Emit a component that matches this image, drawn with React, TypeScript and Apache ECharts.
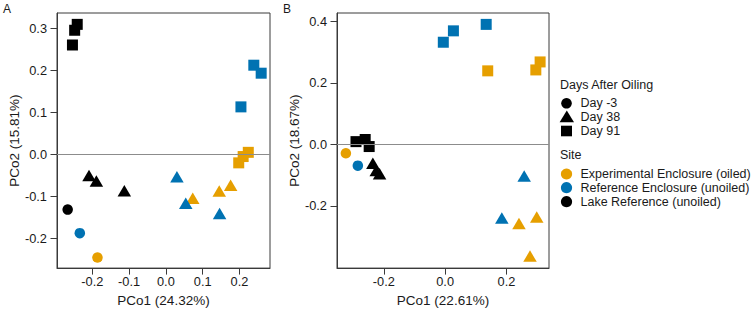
import React, { useEffect, useRef } from "react";
import * as echarts from "echarts";

// Okabe-Ito colours for sites
const siteColors = ["#E69F00", "#0072B2", "#000000"];
const siteLabels = [
  "Experimental Enclosure (oiled)",
  "Reference Enclosure (unoiled)",
  "Lake Reference (unoiled)",
];
const dayLabels = ["Day -3", "Day 38", "Day 91"];

// Panel A (PCo1 24.32%, PCo2 15.81%)
const aDayM3Exp = [[-0.186, -0.245]];
const aDayM3Ref = [[-0.234, -0.187]];
const aDayM3Lake = [[-0.267, -0.131]];
const aDay38Exp = [[0.073, -0.104], [0.145, -0.087], [0.176, -0.073]];
const aDay38Ref = [[0.03, -0.053], [0.054, -0.116], [0.146, -0.14]];
const aDay38Lake = [[-0.209, -0.05], [-0.189, -0.063], [-0.113, -0.086]];
const aDay91Exp = [[0.224, 0.005], [0.21, -0.005], [0.198, -0.02]];
const aDay91Ref = [[0.239, 0.212], [0.259, 0.193], [0.204, 0.113]];
const aDay91Lake = [[-0.241, 0.309], [-0.248, 0.295], [-0.254, 0.26]];

// Panel B (PCo1 22.61%, PCo2 18.67%)
const bDayM3Exp = [[-0.324, -0.029]];
const bDayM3Ref = [[-0.285, -0.069]];
const bDayM3Lake: number[][] = [];
const bDay38Exp = [[0.241, -0.257], [0.299, -0.236], [0.277, -0.363]];
const bDay38Ref = [[0.258, -0.103], [0.185, -0.239]];
const bDay38Lake = [[-0.236, -0.061], [-0.225, -0.085], [-0.214, -0.095]];
const bDay91Exp = [[0.139, 0.239], [0.296, 0.242], [0.31, 0.268]];
const bDay91Ref = [[-0.006, 0.332], [0.027, 0.369], [0.134, 0.39]];
const bDay91Lake = [[-0.291, 0.009], [-0.261, 0.016], [-0.248, -0.007]];

// Axis ticks
const aXTicks = [-0.2, -0.1, 0.0, 0.1, 0.2];
const aYTicks = [-0.2, -0.1, 0.0, 0.1, 0.2, 0.3];
const bXTicks = [-0.2, 0.0, 0.2];
const bYTicks = [-0.2, 0.0, 0.2, 0.4];

const FONT = "Liberation Sans, Arial, sans-serif";
const INK = "#1a1a1a";
const FRAME = "#3a3a3a";

export default function App() {
  const ref = useRef<HTMLDivElement>(null);
  useEffect(() => {
    if (!ref.current) return;
    const chart = echarts.init(ref.current, null, { renderer: "svg" });

    const symbols: any[] = ["circle", "triangle", "rect"];
    const sizes: any[] = [10.5, [13.5, 11.5], 11];

    const panels = [
      [
        [aDayM3Exp, aDayM3Ref, aDayM3Lake],
        [aDay38Exp, aDay38Ref, aDay38Lake],
        [aDay91Exp, aDay91Ref, aDay91Lake],
      ],
      [
        [bDayM3Exp, bDayM3Ref, bDayM3Lake],
        [bDay38Exp, bDay38Ref, bDay38Lake],
        [bDay91Exp, bDay91Ref, bDay91Lake],
      ],
    ];

    const series: any[] = [];
    panels.forEach((panel, p) => {
      series.push({
        type: "line",
        xAxisIndex: p,
        yAxisIndex: p,
        data: [],
        silent: true,
        markLine: {
          silent: true,
          symbol: "none",
          label: { show: false },
          lineStyle: { color: "#8c8c8c", width: 1, type: "solid" },
          data: [{ yAxis: 0 }],
        },
      });
      panel.forEach((day, d) => {
        day.forEach((pts, s) => {
          series.push({
            type: "scatter",
            xAxisIndex: p,
            yAxisIndex: p,
            symbol: symbols[d],
            symbolSize: sizes[d],
            itemStyle: { color: siteColors[s], opacity: 1 },
            data: pts,
            z: 3,
          });
        });
      });
    });

    const baseAxis = (ticks: number[], gi: number, min: number, max: number, name: string, gap: number, margin: number) => ({
      type: "value",
      gridIndex: gi,
      min,
      max,
      name,
      nameGap: gap,
      nameLocation: "middle",
      nameTextStyle: { fontFamily: FONT, fontSize: 13.5, color: INK },
      splitLine: { show: false },
      axisLine: { show: true, onZero: false, lineStyle: { color: FRAME, width: 1 } },
      axisTick: { show: true, length: 6.5, customValues: ticks, lineStyle: { color: FRAME, width: 1 } },
      axisLabel: {
        customValues: ticks,
        formatter: (v: number) => v.toFixed(1),
        fontFamily: FONT,
        fontSize: 12.8,
        color: INK,
        margin,
      },
    });

    const graphic: any[] = [
      { type: "text", x: 3, y: 3, style: { text: "A", fontFamily: FONT, fontSize: 12, fill: INK } },
      { type: "text", x: 283, y: 3, style: { text: "B", fontFamily: FONT, fontSize: 12, fill: INK } },
    ];
    const legendText = (text: string, x: number, y: number) => ({
      type: "text",
      x,
      y,
      style: { text, fontFamily: FONT, fontSize: 12.5, fill: INK, verticalAlign: "middle" },
    });
    graphic.push(legendText("Days After Oiling", 560, 85));
    graphic.push(legendText("Site", 560, 155));
    const dayY = [103.3, 117.3, 131];
    dayLabels.forEach((lab, i) => {
      const cy = dayY[i];
      if (i === 0) graphic.push({ type: "circle", shape: { cx: 566.5, cy, r: 5.3 }, style: { fill: "#000" } });
      if (i === 1)
        graphic.push({
          type: "polygon",
          shape: { points: [[566.8, cy - 6.8], [574, cy + 5], [559.6, cy + 5]] },
          style: { fill: "#000" },
        });
      if (i === 2) graphic.push({ type: "rect", shape: { x: 561, y: cy - 5.3, width: 11, height: 10.6 }, style: { fill: "#000" } });
      graphic.push(legendText(lab, 580.5, cy));
    });
    const siteY = [174, 187.7, 201.7];
    siteLabels.forEach((lab, i) => {
      const cy = siteY[i];
      graphic.push({ type: "circle", shape: { cx: 566.5, cy, r: 5.6 }, style: { fill: siteColors[i] } });
      graphic.push(legendText(lab, 580.5, cy));
    });

    chart.setOption({
      animation: false,
      textStyle: { fontFamily: FONT },
      grid: [
        { left: 57, top: 13, width: 213, height: 260, show: true, borderColor: FRAME, borderWidth: 1, backgroundColor: "transparent" },
        { left: 337, top: 13, width: 212, height: 260, show: true, borderColor: FRAME, borderWidth: 1, backgroundColor: "transparent" },
      ],
      xAxis: [
        baseAxis(aXTicks, 0, -0.296, 0.283, "PCo1 (24.32%)", 22, 7),
        baseAxis(bXTicks, 1, -0.353, 0.339, "PCo1 (22.61%)", 22, 7),
      ],
      yAxis: [
        baseAxis(aYTicks, 0, -0.27, 0.336, "PCo2 (15.81%)", 35, 10),
        baseAxis(bYTicks, 1, -0.402, 0.427, "PCo2 (18.67%)", 35, 10),
      ],
      graphic,
      series,
    });
    return () => chart.dispose();
  }, []);
  return <div ref={ref} style={{ position: "absolute", left: 0, top: 0, width: 754, height: 312 }} />;
}
